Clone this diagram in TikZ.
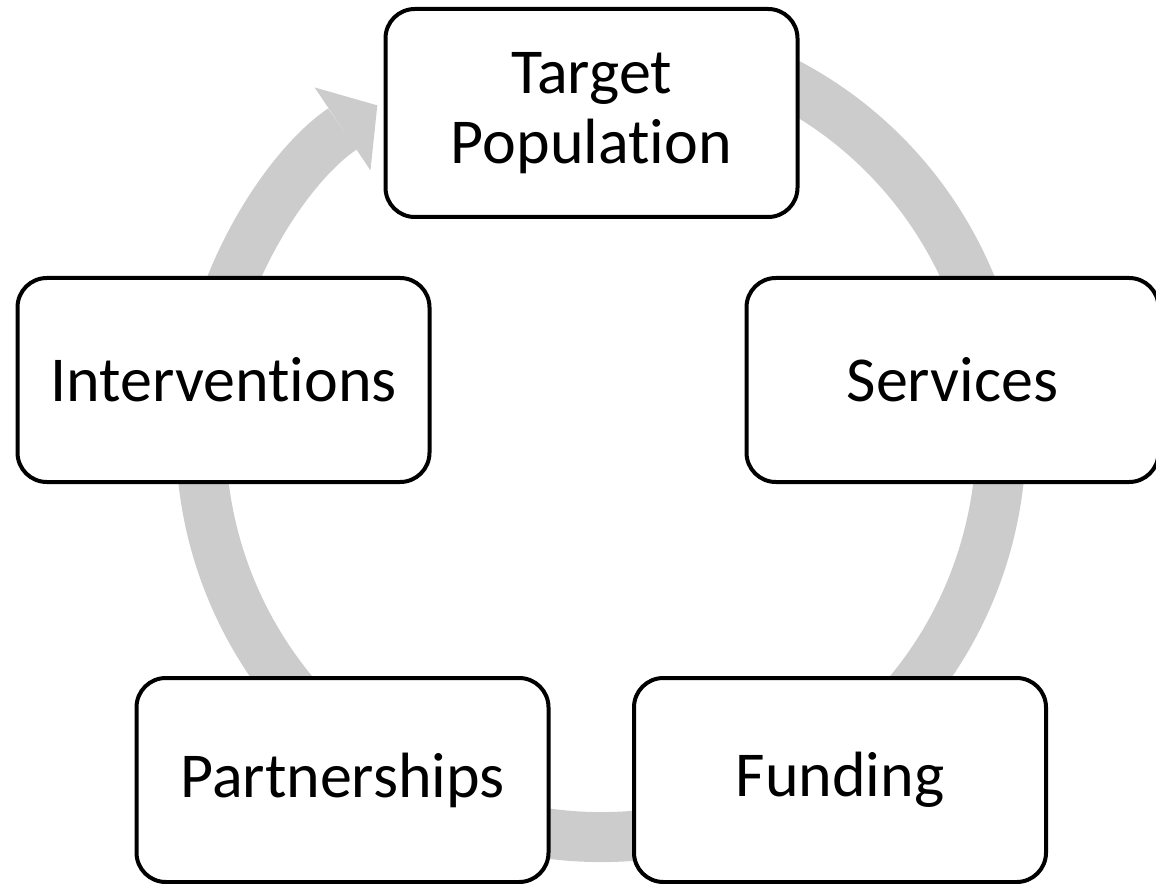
\documentclass[tikz,border=0pt]{standalone}
\usepackage{fontspec}
\setmainfont[Ligatures=NoCommon]{Carlito}
\usetikzlibrary{arrows.meta}

\begin{document}
\begin{tikzpicture}[x=0.75pt,y=0.75pt]

  \definecolor{ringcol}{rgb}{0.8,0.8,0.8}

  \tikzset{
    stagebox/.style={draw, line width=3pt, rounded corners=22pt, fill=white,
      minimum width=309pt, minimum height=153pt, align=center,
      font=\fontsize{48}{52}\selectfont}
  }

  \useasboundingbox (0,0) rectangle (1156,883);

  % cycle ring, clockwise, ends at target
  \coordinate (ctr) at (601,446);
  \draw[ringcol, line width=37.5pt,
        -{Triangle[length=31.5pt,width=75pt,line width=0pt]}]
    (ctr) ++(75:400) arc[start angle=75, end angle=-236, radius=400];

  % stages
  \node[stagebox, minimum height=156pt] (target) at (591.5,770) {Target\\Population};
  \node[stagebox] (services) at (952.5,503) {Services};
  \node[stagebox] (funding) at (840,103) {Funding};
  \node[stagebox] (partner) at (342.5,103) {Partnerships};
  \node[stagebox] (interv) at (223.5,503) {Interventions};

\end{tikzpicture}
\end{document}
